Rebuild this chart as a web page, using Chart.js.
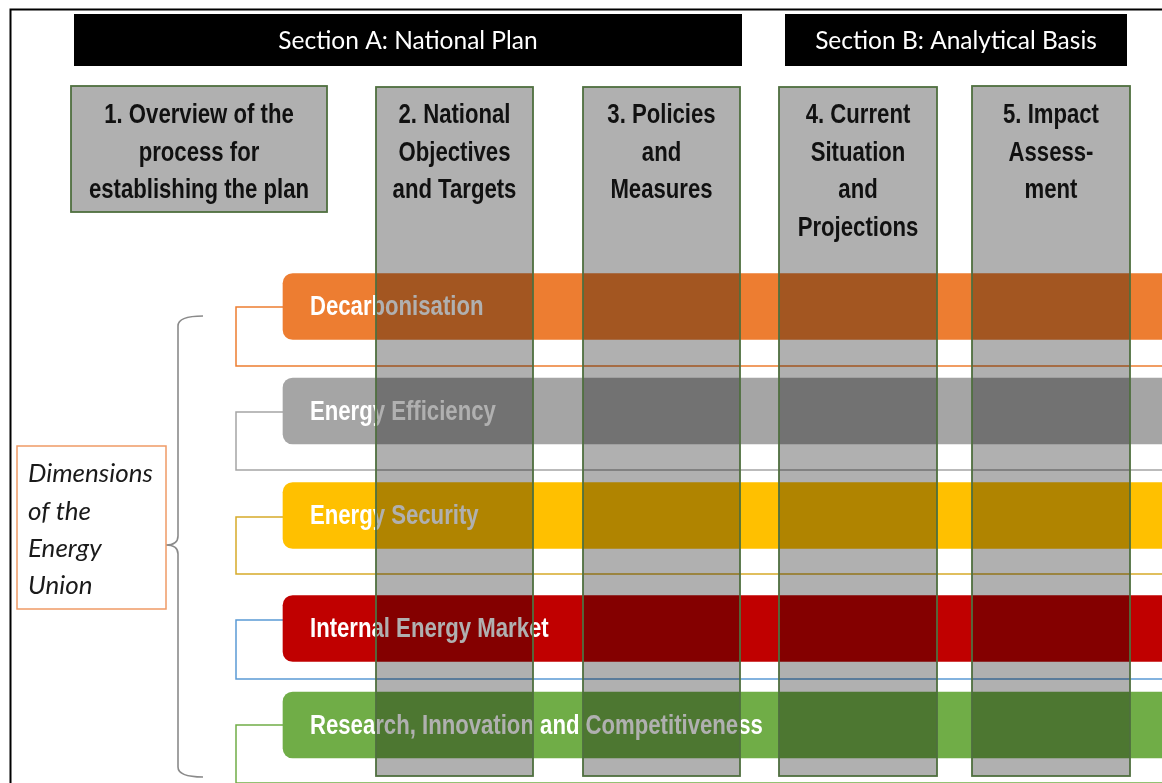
<!DOCTYPE html>
<html>
<head>
<meta charset="utf-8">
<script src="https://cdn.jsdelivr.net/npm/chart.js@4.4.1/dist/chart.umd.min.js"></script>
<style>
  html, body { margin: 0; padding: 0; background: #fff; }
  canvas { display: block; }
</style>
</head>
<body>
<canvas id="c" width="1162" height="783"></canvas>
<script>
// --- texts ---
const sections = ['Section A: National Plan', 'Section B: Analytical Basis'];
const steps = [
    ['1. Overview of the', 'process for', 'establishing the plan'],
    ['2. National', 'Objectives', 'and Targets'],
    ['3. Policies', 'and', 'Measures'],
    ['4. Current', 'Situation', 'and', 'Projections'],
    ['5. Impact', 'Assess-', 'ment']
];
const dimensions = ['Decarbonisation', 'Energy Efficiency', 'Energy Security', 'Internal Energy Market', 'Research, Innovation and Competitiveness'];
const groupLabel = ['Dimensions', 'of the', 'Energy', 'Union'];

// --- layout, in scale units (x 0..1162, y 0..783) ---
const sectionBoxes = [[74, 742], [785, 1127]];
const stepBoxes = [[71, 327, 86, 212], [376, 533, 87, 776], [583, 740, 87, 776], [779, 937, 87, 776], [972, 1130, 86, 776]];
const rowCenters = [306.5, 411, 515.5, 628.5, 725];
const outlineRows = [[307, 366], [412, 470], [517, 574], [620, 679], [725, 783]];

// --- styles ---
const dimColors = ['#ed7d31', '#a5a5a5', '#ffc000', '#c00000', '#70ad47'];
const outlineColors = ['#ed7d31', '#a5a5a5', '#d6aa2a', '#5b9bd5', '#70ad47'];
const boxBorder = '#4f6f3f';

function hasFont(name) {
    const c = document.createElement('canvas').getContext('2d');
    c.font = '40px monospace';
    const a = c.measureText('abcdefghijMW').width;
    c.font = '40px "' + name + '", monospace';
    return c.measureText('abcdefghijMW').width !== a;
}
const NARROW = hasFont('Liberation Sans Narrow');

// bold condensed text (falls back to squeezed Liberation Sans)
function narrowText(ctx, text, x, y, size, align) {
    ctx.save();
    ctx.textAlign = align;
    ctx.textBaseline = 'middle';
    if (NARROW) {
        ctx.font = 'bold ' + size + 'px "Liberation Sans Narrow"';
        ctx.fillText(text, x, y);
    } else {
        ctx.translate(x, y);
        ctx.scale(0.82, 1);
        ctx.font = 'bold ' + size + 'px "Liberation Sans", Arial';
        ctx.fillText(text, 0, 0);
    }
    ctx.restore();
}

const diagram = {
    id: 'diagram',
    beforeDatasetsDraw(chart) {
        const { ctx, scales: { x, y } } = chart;
        const X = v => x.getPixelForValue(v);
        const Y = v => y.getPixelForValue(v);
        ctx.save();
        ctx.fillStyle = '#fff';
        ctx.fillRect(0, 0, chart.width, chart.height);

        // outer frame
        ctx.strokeStyle = '#000';
        ctx.lineWidth = 2;
        ctx.beginPath();
        ctx.moveTo(X(10.5), Y(783));
        ctx.lineTo(X(10.5), Y(9.5));
        ctx.lineTo(X(1162), Y(9.5));
        ctx.stroke();

        // section headers
        sections.forEach((s, i) => {
            const [x0, x1] = sectionBoxes[i];
            ctx.fillStyle = '#000';
            ctx.fillRect(X(x0), Y(14), X(x1) - X(x0), Y(66) - Y(14));
            ctx.fillStyle = '#fff';
            ctx.font = '24.5px Lato, "Open Sans", sans-serif';
            ctx.textAlign = 'center';
            ctx.textBaseline = 'middle';
            ctx.fillText(s, X((x0 + x1) / 2), Y(41));
        });

        // thin outline frames behind each dimension bar
        ctx.lineWidth = 1.5;
        outlineRows.forEach(([t, b], i) => {
            ctx.strokeStyle = outlineColors[i];
            ctx.beginPath();
            ctx.moveTo(X(1170), Y(t));
            ctx.lineTo(X(236), Y(t));
            ctx.lineTo(X(236), Y(b));
            ctx.lineTo(X(1170), Y(b));
            ctx.stroke();
        });

        // curly brace
        ctx.strokeStyle = '#8a8a8a';
        ctx.lineWidth = 1.6;
        ctx.beginPath();
        ctx.moveTo(X(203), Y(316));
        ctx.quadraticCurveTo(X(178), Y(316), X(178), Y(326));
        ctx.lineTo(X(178), Y(536));
        ctx.quadraticCurveTo(X(178), Y(545), X(166), Y(545));
        ctx.quadraticCurveTo(X(178), Y(545), X(178), Y(554));
        ctx.lineTo(X(178), Y(767));
        ctx.quadraticCurveTo(X(178), Y(777), X(203), Y(777));
        ctx.stroke();

        // "Dimensions of the Energy Union" box
        ctx.strokeStyle = '#ef9a66';
        ctx.lineWidth = 1.5;
        ctx.strokeRect(X(17), Y(446), X(166) - X(17), Y(609) - Y(446));
        ctx.fillStyle = '#1a1a1a';
        ctx.font = 'italic 26px Lato, "Open Sans", sans-serif';
        ctx.textAlign = 'left';
        ctx.textBaseline = 'middle';
        groupLabel.forEach((t, i) => ctx.fillText(t, X(28), Y(474 + i * 37.3)));

        // step 1 box (solid)
        const [a0, a1, b0, b1] = stepBoxes[0];
        ctx.fillStyle = '#b0b0b0';
        ctx.fillRect(X(a0), Y(b0), X(a1) - X(a0), Y(b1) - Y(b0));
        ctx.strokeStyle = boxBorder;
        ctx.lineWidth = 1.8;
        ctx.strokeRect(X(a0), Y(b0), X(a1) - X(a0), Y(b1) - Y(b0));
        ctx.fillStyle = '#111';
        steps[0].forEach((t, i) => narrowText(ctx, t, X((a0 + a1) / 2), Y(116 + i * 37.5), 27, 'center'));
        ctx.restore();
    },
    afterDatasetsDraw(chart) {
        const { ctx, scales: { x, y } } = chart;
        const X = v => x.getPixelForValue(v);
        const Y = v => y.getPixelForValue(v);
        ctx.save();
        // labels inside dimension bars
        ctx.fillStyle = '#fff';
        dimensions.forEach((d, i) => narrowText(ctx, d, X(310), Y(rowCenters[i] + 1.5), 27, 'left'));

        // translucent step columns 2-5
        steps.slice(1).forEach((lines, k) => {
            const [a0, a1, b0, b1] = stepBoxes[k + 1];
            ctx.fillStyle = 'rgba(0,0,0,0.31)';
            ctx.fillRect(X(a0), Y(b0), X(a1) - X(a0), Y(b1) - Y(b0));
            ctx.strokeStyle = boxBorder;
            ctx.lineWidth = 1.8;
            ctx.strokeRect(X(a0), Y(b0), X(a1) - X(a0), Y(b1) - Y(b0));
            ctx.fillStyle = '#111';
            lines.forEach((t, i) => narrowText(ctx, t, X((a0 + a1) / 2), Y(116 + i * 37.5), 27, 'center'));
        });
        ctx.restore();
    }
};

new Chart(document.getElementById('c'), {
    type: 'bar',
    data: {
        datasets: [{
            data: dimensions.map((d, i) => ({ y: rowCenters[i], x: [283, 1175] })),
            backgroundColor: dimColors,
            borderWidth: 0,
            borderSkipped: false,
            borderRadius: { topLeft: 10, bottomLeft: 10, topRight: 0, bottomRight: 0 },
            barThickness: 66
        }]
    },
    options: {
        indexAxis: 'y',
        responsive: false,
        animation: false,
        layout: { padding: 0 },
        plugins: { legend: { display: false }, tooltip: { enabled: false } },
        scales: {
            x: { type: 'linear', min: 0, max: 1162, display: false, offset: false },
            y: { type: 'linear', min: 0, max: 783, reverse: true, display: false, offset: false }
        }
    },
    plugins: [diagram]
});
</script>
</body>
</html>
